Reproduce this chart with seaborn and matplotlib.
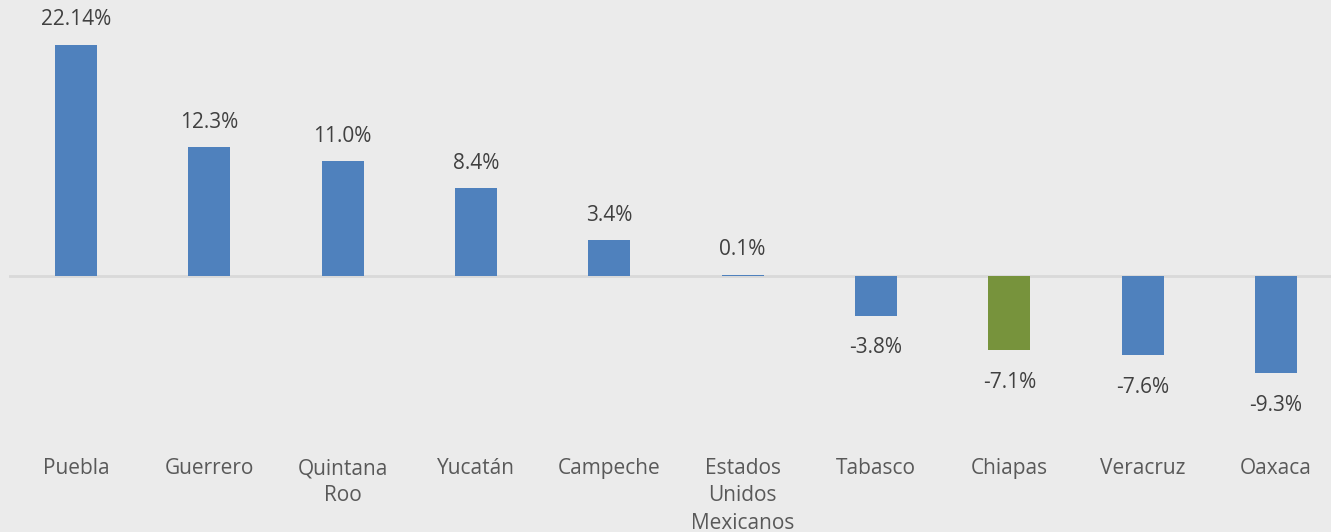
import matplotlib
matplotlib.use("Agg")
import matplotlib.pyplot as plt
import seaborn as sns
import pandas as pd

# data
states = ["Puebla", "Guerrero", "Quintana\nRoo", "Yucatán", "Campeche",
          "Estados\nUnidos\nMexicanos", "Tabasco", "Chiapas", "Veracruz", "Oaxaca"]
growth = [22.14, 12.3, 11.0, 8.4, 3.4, 0.1, -3.8, -7.1, -7.6, -9.3]
value_labels = ["22.14%", "12.3%", "11.0%", "8.4%", "3.4%", "0.1%",
                "-3.8%", "-7.1%", "-7.6%", "-9.3%"]
bar_colors = ["#4F81BD"] * 7 + ["#77933C"] + ["#4F81BD"] * 2

df = pd.DataFrame({"state": states, "growth": growth})

sns.set_style("white")
plt.rcParams["font.family"] = ["Open Sans", "DejaVu Sans"]

bg = "#EBEBEB"
fig = plt.figure(figsize=(13.31, 5.32), dpi=100, facecolor=bg)
W, H = 1331, 532
# axes: x slots from 9.3px to 1342.6px, y from top 0 to 440px
ax = fig.add_axes([9.3 / W, (H - 440) / H, 1333.3 / W, 440 / H])
ax.set_facecolor(bg)

sns.barplot(data=df, x="state", y="growth", hue="state", palette=bar_colors,
            width=0.315, legend=False, ax=ax, saturation=1, linewidth=0)

scale = 10.45  # px per %
ax.set_ylim(-(440 - 276) / scale, 276 / scale)
ax.set_xlim(-0.5, 9.5)

ax.axhline(0, color="#D9D9D9", lw=2, zorder=0.5)

for i, (v, lab) in enumerate(zip(growth, value_labels)):
    off = 18 if v >= 0 else -23
    ax.annotate(lab, (i, v), xytext=(0, off), textcoords="offset points",
                ha="center", va="center", fontsize=15, color="#404040")

ax.set_xlabel("")
ax.set_ylabel("")
ax.set_yticks([])
ax.tick_params(axis="x", length=0, pad=13, labelsize=15, labelcolor="#595959")
for t in ax.get_xticklabels():
    t.set_linespacing(1.4)
    t.set_verticalalignment("top")
for s in ax.spines.values():
    s.set_visible(False)

fig.savefig("out.png", dpi=100, facecolor=bg)
